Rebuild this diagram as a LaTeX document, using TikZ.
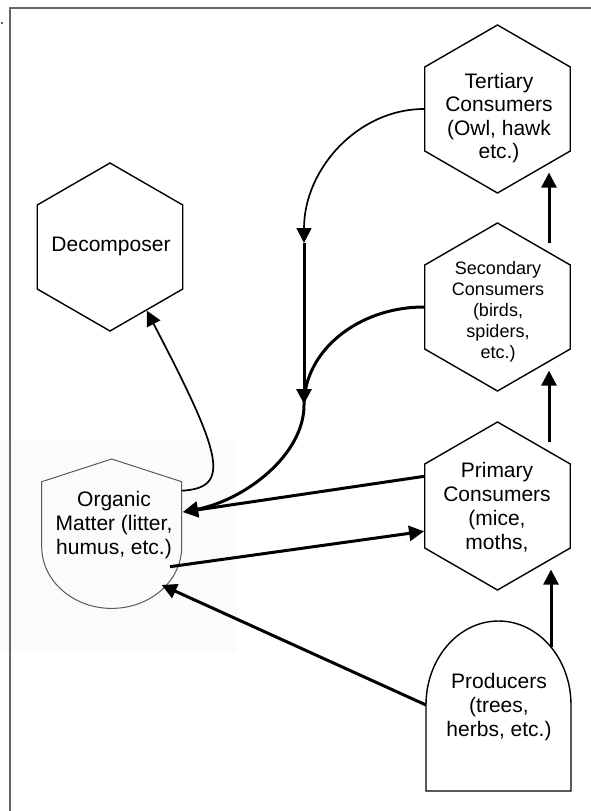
\documentclass[tikz,border=0pt]{standalone}
\usepackage{fontspec}
\setmainfont{Liberation Sans}
\usetikzlibrary{shapes.geometric,arrows.meta,calc}
\begin{document}
\begin{tikzpicture}[x=1pt,y=-1pt,
  hexa/.style={draw,line width=1.4pt,regular polygon,regular polygon sides=6,regular polygon rotate=30,minimum size=168pt,inner sep=0pt},
  txt/.style={align=center,inner sep=0pt,font=\fontsize{21}{24}\selectfont},
  stxt/.style={align=center,inner sep=0pt,font=\fontsize{18}{21}\selectfont},
  tip/.style={-{Triangle[length=15pt,width=15pt]}},
  heavy/.style={tip,line width=3pt},
  light/.style={tip,line width=1.7pt},
  frame/.style={draw=black!60,line width=2pt}]
\useasboundingbox (0,0) rectangle (591,811);
\fill[black!1.5] (0,440) rectangle (237,652);
\draw[frame] (10,811) -- (10,8) -- (591,8);
\fill[black!60] (1,22) rectangle (3,24);

% hexagons
\node[hexa] (D) at (110,247) {};
\node[hexa] (T) at (497.5,109) {};
\node[hexa] (S) at (497.5,307) {};
\node[hexa] (P) at (497.5,506) {};

% organic matter shape
\draw[black!65,line width=1pt] (41.7,481.7) -- (111.7,459) -- (181.7,481.7) -- (181.7,546.7)
  arc (0:180:70 and 61.7) -- cycle;
% producers shape
\draw[line width=1.4pt] (426,791) -- (426,705) arc (180:360:72.5 and 84) -- (571,791) -- cycle;

% texts
\node[txt] (Dt) at (111,246) {Decomposer};
\node[txt,font=\fontsize{21}{23.5}\selectfont] (Tt) at (499,118) {Tertiary\\Consumers\\(Owl, hawk\\etc.)};
\node[stxt] (St) at (498,312) {Secondary\\Consumers\\(birds,\\spiders,\\etc.)};
\node[txt] (Pt) at (497,507) {Primary\\Consumers\\(mice,\\moths,};
\node[txt] (Ot) at (114,525) {Organic\\Matter (litter,\\humus, etc.)};
\node[txt] (Rt) at (499,707) {Producers\\(trees,\\herbs, etc.)};

% coordinates
\coordinate (colx) at (549,0);
\coordinate (prodP) at (551,647);
\coordinate (prodL) at (426,705);
\coordinate (omB) at (161.7,585);
\coordinate (omP) at (183,512);
\coordinate (omA) at (170,566.7);
\coordinate (omD) at (181.7,490.7);
\coordinate (j1) at (304,243);
\coordinate (j2) at (304,404);

% connectors
\draw[heavy] (prodP) -- (P.-60 -| prodP);
\draw[heavy] (P.60 -| colx) -- (S.-60 -| colx);
\draw[heavy] (S.60 -| colx) -- (T.-60 -| colx);
\draw[light] (T.west) .. controls (358,109) and (304,169) .. (j1);
\draw[heavy] (j1) -- (j2);
\draw[heavy] (S.west) .. controls (358,307) and (304,351) .. (304,405) .. controls (304,455) and (245,500) .. (omP);
\draw[heavy] (P.158) -- (omP);
\draw[heavy] (omA) -- (P.199);
\draw[heavy] (prodL) -- (omB);
\draw[light] (omD) .. controls (232,488) and (222,455) .. (D.-60);
\end{tikzpicture}
\end{document}
